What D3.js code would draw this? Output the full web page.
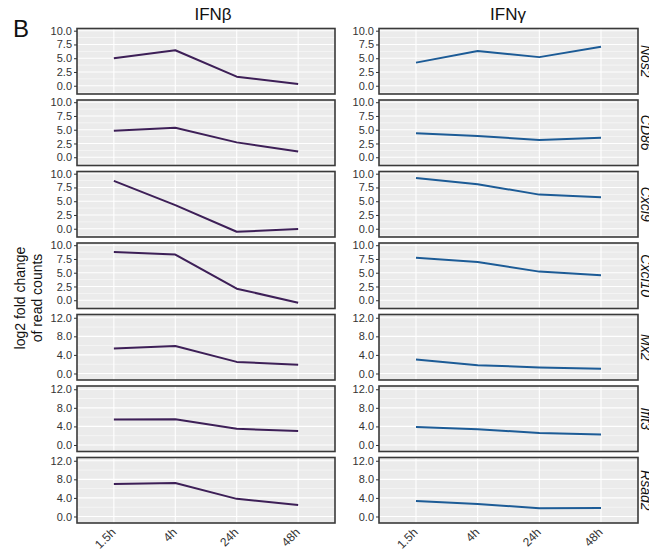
<!DOCTYPE html>
<html>
<head>
<meta charset="utf-8">
<script src="https://cdn.jsdelivr.net/npm/d3@7"></script>
<style>
  html, body { margin: 0; padding: 0; background: #ffffff; }
  svg { display: block; font-family: "Liberation Sans", Arial, sans-serif; }
</style>
</head>
<body>
<svg id="chart" width="649" height="557"></svg>
<script>
// ---- data ----
const timepoints = ["1.5h", "4h", "24h", "48h"];
const genes = ["Nos2", "CD86", "Cxcl9", "Cxcl10", "Mx2", "Ifit3", "Rsad2"];
const treatments = ["IFNβ", "IFNγ"];
const ifnbValues = [
  [5.0, 6.45, 1.65, 0.3],
  [4.8, 5.35, 2.7, 1.05],
  [8.7, 4.3, -0.55, -0.05],
  [8.75, 8.3, 2.1, -0.45],
  [5.4, 5.9, 2.5, 1.9],
  [5.5, 5.55, 3.5, 3.0],
  [7.0, 7.2, 3.8, 2.45]
];
const ifngValues = [
  [4.2, 6.3, 5.2, 7.1],
  [4.35, 3.85, 3.15, 3.55],
  [9.2, 8.1, 6.2, 5.7],
  [7.7, 6.95, 5.2, 4.55],
  [3.0, 1.8, 1.3, 1.0],
  [3.9, 3.4, 2.6, 2.25],
  [3.35, 2.7, 1.8, 1.85]
];
const yTicksA = [0, 2.5, 5, 7.5, 10];
const yTicksB = [0, 4, 8, 12];
const yTitleLines = ["log2 fold change", "of read counts"];
const panelLabel = "B";

// ---- layout ----
const svg = d3.select("#chart");
const colX = [[77, 335], [379, 638]];
const lineColors = ["#3d1f57", "#1c5b96"];
const top0 = 28.5, pitch = 71.5, ph = 65.5;
const seriesByCol = [ifnbValues, ifngValues];

function rowTicks(r) { return r < 4 ? yTicksA : yTicksB; }
function rowDomain(r) { return r < 4 ? [-1.5, 10.4] : [-1.4, 12.7]; }

// Panel letter
svg.append("text").attr("x", 13).attr("y", 37).attr("font-size", 24)
  .attr("fill", "#111").text(panelLabel);

// column titles
const titleX = [213, 508];
treatments.forEach((t, c) => {
  svg.append("text").attr("x", titleX[c]).attr("y", 20)
    .attr("text-anchor", "middle").attr("font-size", 17).attr("fill", "#111").text(t);
});

// y title
const yt = svg.append("text")
  .attr("transform", `translate(0,298) rotate(-90)`)
  .attr("text-anchor", "middle").attr("font-size", 14).attr("fill", "#111");
yt.append("tspan").attr("x", 0).attr("y", 25).text(yTitleLines[0]);
yt.append("tspan").attr("x", 0).attr("y", 42).text(yTitleLines[1]);

genes.forEach((g, r) => {
  const y0 = top0 + r * pitch;
  const ticks = rowTicks(r);
  const yScale = d3.scaleLinear().domain(rowDomain(r)).range([y0 + ph, y0]);
  const step = ticks[1] - ticks[0];
  const minors = [ticks[0] - step / 2].concat(ticks.map(t => t + step / 2))
    .filter(v => v > yScale.domain()[0] && v < yScale.domain()[1]);

  [0, 1].forEach(c => {
    const [xl, xr] = colX[c];
    const xScale = d3.scalePoint().domain(timepoints).range([xl, xr]).padding(0.6);
    const g0 = svg.append("g");
    g0.append("rect").attr("x", xl).attr("y", y0).attr("width", xr - xl).attr("height", ph)
      .attr("fill", "#EBEBEB");
    // minor grid
    g0.selectAll(".mn").data(minors).join("line")
      .attr("x1", xl).attr("x2", xr)
      .attr("y1", d => yScale(d)).attr("y2", d => yScale(d))
      .attr("stroke", "#ffffff").attr("stroke-width", 0.6).attr("opacity", 0.9);
    // major grid
    g0.selectAll(".mj").data(ticks).join("line")
      .attr("x1", xl).attr("x2", xr)
      .attr("y1", d => yScale(d)).attr("y2", d => yScale(d))
      .attr("stroke", "#ffffff").attr("stroke-width", 1.1);
    g0.selectAll(".vx").data(timepoints).join("line")
      .attr("x1", d => xScale(d)).attr("x2", d => xScale(d))
      .attr("y1", y0).attr("y2", y0 + ph)
      .attr("stroke", "#ffffff").attr("stroke-width", 1.1);

    // line
    const vals = seriesByCol[c][r];
    const line = d3.line().x((d, i) => xScale(timepoints[i])).y(d => yScale(d));
    g0.append("path").datum(vals).attr("d", line).attr("fill", "none")
      .attr("stroke", lineColors[c]).attr("stroke-width", 2).attr("stroke-linejoin", "round");

    // border
    g0.append("rect").attr("x", xl).attr("y", y0).attr("width", xr - xl).attr("height", ph)
      .attr("fill", "none").attr("stroke", "#3a3a3a").attr("stroke-width", 1.6);

    // y axis
    const ax = svg.append("g").attr("transform", `translate(${xl},0)`)
      .call(d3.axisLeft(yScale).tickValues(ticks).tickFormat(d3.format(".1f")).tickSize(3).tickPadding(2));
    ax.select(".domain").remove();
    ax.selectAll("line").attr("stroke", "#333");
    ax.selectAll("text").attr("font-size", 11).attr("fill", "#333")
      .attr("font-family", "Liberation Sans, Arial, sans-serif");

    // x axis at bottom row
    if (r === genes.length - 1) {
      const bx = svg.append("g").attr("transform", `translate(0,${y0 + ph})`)
        .call(d3.axisBottom(xScale).tickSize(0).tickPadding(0));
      bx.select(".domain").remove();
      bx.selectAll("text").attr("font-size", 12).attr("fill", "#333")
        .attr("font-family", "Liberation Sans, Arial, sans-serif")
        .attr("text-anchor", "end").attr("dy", null).attr("y", 0)
        .attr("transform", "translate(2,10) rotate(-45)");
    }
  });

  // strip label
  svg.append("text")
    .attr("transform", `translate(641,${y0 + ph / 2}) rotate(90)`)
    .attr("text-anchor", "middle").attr("font-size", 14).attr("font-style", "italic")
    .attr("fill", "#111").text(g);
});
</script>
</body>
</html>
